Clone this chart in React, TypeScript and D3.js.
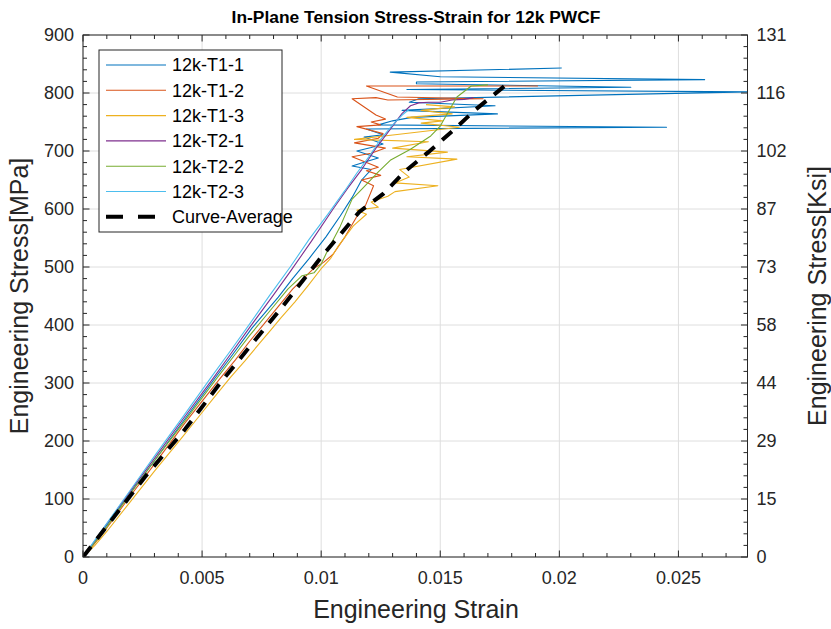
import React from "react";
import * as d3 from "d3";

type P = [number, number];

const seriesNames = ["12k-T1-1", "12k-T1-2", "12k-T1-3", "12k-T2-1", "12k-T2-2", "12k-T2-3"];
const seriesColors = ["#0072BD", "#D95319", "#EDB120", "#7E2F8E", "#77AC30", "#4DBEEE"];

const t11: P[] = [[0,0],[0.0005,27],[0.001,55],[0.002,111],[0.003,166],[0.0041,228],[0.0055,306],[0.0063,350],[0.0071,395],[0.0082,448],[0.0088,480],[0.0095,515],[0.0102,552],[0.0108,588],[0.0113,620],[0.0117,650],[0.0121,668],[0.0113,674],[0.0119,682],[0.0124,688],[0.0115,700],[0.0121,706],[0.0126,712],[0.0118,724],[0.0126,728],[0.0119,738],[0.0245,741],[0.0124,745],[0.0130,752],[0.0138,758],[0.0174,764],[0.0134,770],[0.0173,778],[0.0137,784],[0.0141,790],[0.0279,802],[0.0136,806],[0.0230,810],[0.0140,816],[0.0140,819],[0.0261,823],[0.0150,828],[0.0129,836],[0.0201,843]];
const t12: P[] = [[0,0],[0.0005,24],[0.001,50],[0.002,106],[0.003,160],[0.0043,232],[0.0057,305],[0.0064,340],[0.0070,372],[0.0078,412],[0.0088,462],[0.0097,498],[0.0101,508],[0.0105,522],[0.0110,552],[0.01151,588],[0.01185,605],[0.0122,640],[0.0117,650],[0.0125,658],[0.0119,666],[0.0124,672],[0.0113,690],[0.0121,696],[0.0127,705],[0.0114,714],[0.0124,722],[0.0126,730],[0.0115,742],[0.0125,745],[0.0121,750],[0.0127,755],[0.0123,762],[0.0113,790],[0.0123,792],[0.0128,788],[0.0168,790],[0.0132,793],[0.0119,812],[0.0191,812]];
const t13: P[] = [[0,0],[0.0005,20],[0.001,44],[0.002,96],[0.003,148],[0.0040,198],[0.0049,244],[0.0056,280],[0.0062,310],[0.0068,338],[0.0074,368],[0.0079,392],[0.0083,412],[0.0089,440],[0.00945,468],[0.0100,497],[0.0104,515],[0.0107,535],[0.01135,571],[0.0119,591],[0.0115,598],[0.0124,603],[0.0121,612],[0.0128,622],[0.0131,630],[0.0149,640],[0.0131,645],[0.0137,655],[0.0133,668],[0.0157,686],[0.0136,690],[0.0153,698],[0.0130,705],[0.0145,716],[0.0114,720],[0.0131,728],[0.0158,741],[0.0142,748],[0.0151,752],[0.0136,758],[0.0155,764],[0.0142,770],[0.0156,776],[0.0144,780]];
const t21: P[] = [[0,0],[0.0005,28],[0.001,57],[0.002,114],[0.003,170],[0.0042,238],[0.0055,310],[0.0062,350],[0.0070,396],[0.0080,452],[0.0087,492],[0.0096,545],[0.0105,600],[0.0111,635],[0.0117,668],[0.0123,705],[0.0130,743],[0.0134,765],[0.01375,778],[0.0141,783],[0.0145,784],[0.0150,784],[0.0155,788],[0.0160,789],[0.0164,792]];
const t22: P[] = [[0,0],[0.0005,25],[0.001,52],[0.002,110],[0.003,166],[0.0043,236],[0.0056,307],[0.0064,350],[0.0070,382],[0.0078,422],[0.0086,462],[0.0092,485],[0.0097,490],[0.0100,505],[0.0103,531],[0.0108,570],[0.0113,617],[0.0117,634],[0.0124,664],[0.0129,684],[0.01375,703],[0.0146,726],[0.0150,743],[0.0154,772],[0.0157,793],[0.0163,812],[0.0170,814]];
const t23: P[] = [[0,0],[0.0005,29],[0.001,58],[0.002,116],[0.003,174],[0.0042,242],[0.0054,311],[0.0062,356],[0.0070,402],[0.0078,449],[0.0087,500],[0.0095,548],[0.0103,592],[0.0110,632],[0.0115,662],[0.0120,690],[0.0125,720],[0.0130,745],[0.0134,762],[0.0137,772]];
const average: P[] = [[0,0],[0.001,53],[0.0026,138],[0.0043,221],[0.0058,302],[0.0084,433],[0.0100,517],[0.0116,595],[0.0126,626],[0.0135,664],[0.0145,698],[0.0155,734],[0.0165,772],[0.0177,812]];

const allSeries = [t11, t12, t13, t21, t22, t23];

const xTicks = [0, 0.005, 0.01, 0.015, 0.02, 0.025];
const xTickLabels = ["0", "0.005", "0.01", "0.015", "0.02", "0.025"];
const yTicks = [0, 100, 200, 300, 400, 500, 600, 700, 800, 900];
const yRightLabels = ["0", "15", "29", "44", "58", "73", "87", "102", "116", "131"];

const FONT = "'Liberation Sans', Arial, Helvetica, sans-serif";

export default function App() {
  const L = 83, R = 747.5, T = 35, B = 557;
  const x = d3.scaleLinear().domain([0, 0.0279]).range([L, R]);
  const y = d3.scaleLinear().domain([0, 900]).range([B, T]);
  const line = d3.line<P>().x(d => x(d[0])).y(d => y(d[1]));

  const xMinor = d3.range(0, 0.02791, 0.001).filter(v => !xTicks.some(t => Math.abs(t - v) < 1e-9));
  const yMinor = d3.range(0, 901, 20).filter(v => v % 100 !== 0);
  const axisColor = "#262626";
  const gridColor = "#dedede";
  const majorLen = 6.5, minorLen = 4;

  const legendX = 99, legendY = 50, legendW = 183, legendH = 182;
  const rowH = 25.3;

  return (
    <svg width={831} height={629} style={{ position: "absolute", left: 0, top: 0, background: "#fff" }} fontFamily={FONT}>
      <rect x={0} y={0} width={831} height={629} fill="#fff" />
      <defs>
        <clipPath id="plotClip">
          <rect x={L} y={T} width={R - L} height={B - T} />
        </clipPath>
      </defs>
      {xTicks.map((t, i) => (
        <line key={"gx" + i} x1={x(t)} x2={x(t)} y1={T} y2={B} stroke={gridColor} strokeWidth={1} />
      ))}
      {yTicks.map((t, i) => (
        <line key={"gy" + i} x1={L} x2={R} y1={y(t)} y2={y(t)} stroke={gridColor} strokeWidth={1} />
      ))}
      <g clipPath="url(#plotClip)">
        {allSeries.map((s, i) => (
          <path key={"s" + i} d={line(s) || ""} fill="none" stroke={seriesColors[i]} strokeWidth={1.1} strokeLinejoin="round" />
        ))}
        <path d={line(average) || ""} fill="none" stroke="#000" strokeWidth={4} strokeDasharray="13,10" />
      </g>
      <rect x={L} y={T} width={R - L} height={B - T} fill="none" stroke={axisColor} strokeWidth={1} />
      {xTicks.map((t, i) => (
        <g key={"xt" + i}>
          <line x1={x(t)} x2={x(t)} y1={B} y2={B - majorLen} stroke={axisColor} />
          <line x1={x(t)} x2={x(t)} y1={T} y2={T + majorLen} stroke={axisColor} />
          <text x={x(t)} y={B + 27} textAnchor="middle" fontSize={18} fill={axisColor}>{xTickLabels[i]}</text>
        </g>
      ))}
      {xMinor.map((t, i) => (
        <g key={"xm" + i}>
          <line x1={x(t)} x2={x(t)} y1={B} y2={B - minorLen} stroke={axisColor} />
          <line x1={x(t)} x2={x(t)} y1={T} y2={T + minorLen} stroke={axisColor} />
        </g>
      ))}
      {yTicks.map((t, i) => (
        <g key={"yt" + i}>
          <line x1={L} x2={L + majorLen} y1={y(t)} y2={y(t)} stroke={axisColor} />
          <line x1={R} x2={R - majorLen} y1={y(t)} y2={y(t)} stroke={axisColor} />
          <text x={L - 9} y={y(t)} dy="0.35em" textAnchor="end" fontSize={18} fill={axisColor}>{t}</text>
          <text x={R + 9} y={y(t)} dy="0.35em" textAnchor="start" fontSize={18} fill={axisColor}>{yRightLabels[i]}</text>
        </g>
      ))}
      {yMinor.map((t, i) => (
        <g key={"ym" + i}>
          <line x1={L} x2={L + minorLen} y1={y(t)} y2={y(t)} stroke={axisColor} />
          <line x1={R} x2={R - minorLen} y1={y(t)} y2={y(t)} stroke={axisColor} />
        </g>
      ))}
      <text x={416} y={23} textAnchor="middle" fontSize={17.4} fontWeight="bold" fill="#000">In-Plane Tension Stress-Strain for 12k PWCF</text>
      <text x={416} y={618} textAnchor="middle" fontSize={25} fill={axisColor}>Engineering Strain</text>
      <text transform={`translate(28,${(T + B) / 2}) rotate(-90)`} textAnchor="middle" fontSize={25} fill={axisColor}>Engineering Stress[MPa]</text>
      <text transform={`translate(826,${(T + B) / 2}) rotate(-90)`} textAnchor="middle" fontSize={25} fill={axisColor}>Engineering Stress[Ksi]</text>
      <rect x={legendX} y={legendY} width={legendW} height={legendH} fill="#fff" stroke={axisColor} strokeWidth={1} />
      {seriesNames.map((n, i) => (
        <g key={"lg" + i}>
          <line x1={106} x2={166} y1={legendY + 15 + i * rowH} y2={legendY + 15 + i * rowH} stroke={seriesColors[i]} strokeWidth={1.1} />
          <text x={172} y={legendY + 15 + i * rowH} dy="0.35em" fontSize={18} fill="#000">{n}</text>
        </g>
      ))}
      <line x1={106} x2={166} y1={legendY + 15 + 6 * rowH} y2={legendY + 15 + 6 * rowH} stroke="#000" strokeWidth={4} strokeDasharray="17,15" />
      <text x={172} y={legendY + 15 + 6 * rowH} dy="0.35em" fontSize={18} fill="#000">Curve-Average</text>
    </svg>
  );
}
